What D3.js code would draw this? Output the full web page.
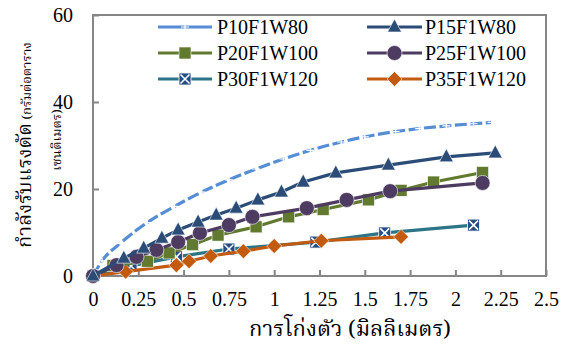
<!DOCTYPE html>
<html><head><meta charset="utf-8">
<script src="https://cdn.jsdelivr.net/npm/d3@7"></script>
<style>
html,body{margin:0;padding:0;background:#fff;}
svg{display:block;}
text{font-family:"Liberation Serif","Times New Roman",serif;fill:#000;}
.th{font-family:"Noto Serif Thai","Noto Sans Thai","Norasi","Loma","Garuda","Tlwg Typo","DejaVu Sans","Noto Sans",sans-serif;}
</style></head>
<body>
<svg id="c" width="571" height="349"></svg>
<script>
const seriesNames = ["P10F1W80","P15F1W80","P20F1W100","P25F1W100","P30F1W120","P35F1W120"];
const xTicks = [0,0.25,0.5,0.75,1,1.25,1.5,1.75,2,2.25,2.5];
const xTickLabels = ["0","0.25","0.5","0.75","1","1.25","1.5","1.75","2","2.25","2.5"];
const yTicks = [0,20,40,60];
const yTickLabels = ["0","20","40","60"];
const xTitle = "การโก่งตัว (มิลลิเมตร)";
const yTitleMain = "กำลังรับแรงดัด";
const yTitleUnit1 = " (กรัมต่อตาราง";
const yTitleUnit2 = "เซนติเมตร)";

const p10x = [0,0.05,0.15,0.3,0.45,0.6,0.75,0.9,1.05,1.2,1.37,1.5,1.67,1.8,1.95,2.1,2.2];
const p10y = [0,3.5,7.5,12.3,16,19.3,22.1,24.6,26.9,28.9,30.8,32.0,33.2,33.9,34.5,35,35.3];
const p15x = [0,0.17,0.28,0.38,0.47,0.58,0.68,0.79,0.91,1.04,1.16,1.34,1.63,1.95,2.22];
const p15y = [0,4.1,6.4,8.7,10.6,12.4,14.0,15.6,17.5,19.3,21.6,23.7,25.5,27.4,28.3];
const p20x = [0,0.11,0.3,0.42,0.55,0.69,0.9,1.08,1.27,1.52,1.7,1.88,2.15];
const p20y = [0,2.4,3.4,5.3,7.2,9.4,11.3,13.6,15.3,17.5,19.7,21.6,23.8];
const p25x = [0,0.13,0.24,0.35,0.47,0.59,0.75,0.88,1.18,1.4,1.64,2.15];
const p25y = [0,2.5,4.4,6.0,7.8,9.9,11.7,13.6,15.6,17.5,19.5,21.4];
const p30x = [0,0.21,0.46,0.75,1.23,1.61,2.1];
const p30y = [0,2.3,4.4,6.2,7.8,9.9,11.7];
const p35x = [0,0.18,0.46,0.53,0.65,0.83,1.0,1.26,1.7];
const p35y = [0,1.0,2.5,3.4,4.6,5.7,6.9,8.1,9.0];

const xs = [p10x,p15x,p20x,p25x,p30x,p35x];
const ys = [p10y,p15y,p20y,p25y,p30y,p35y];
const lineColors = ["#558ed5","#2a4c76","#617a2f","#4e3b62","#2b7586","#c25b10"];
const markerColors = ["#ffffff","#2a4c76","#617a2f","#4e3b62","#254d83","#c25b10"];
const markerTypes = ["plus","triangle","square","circle","xsquare","diamond"];

const svg = d3.select("#c");
const L=93, T=15, R=546, B=276;
const x = d3.scaleLinear().domain([0,2.5]).range([L,R]);
const y = d3.scaleLinear().domain([0,60]).range([B,T]);

svg.append("rect").attr("x",L).attr("y",T).attr("width",R-L).attr("height",B-T)
  .attr("fill","none").attr("stroke","#868686").attr("stroke-width",2);

const xAxis = d3.axisBottom(x).tickValues(xTicks).tickFormat((d,i)=>xTickLabels[i]).tickSizeInner(-6).tickSizeOuter(0).tickPadding(16);
const gx = svg.append("g").attr("transform",`translate(0,${B})`).call(xAxis);
gx.select(".domain").remove();
gx.selectAll(".tick line").attr("stroke","#868686").attr("stroke-width",2);
gx.selectAll("text").attr("font-size",20).style("font-family","Liberation Serif");

const yAxis = d3.axisLeft(y).tickValues(yTicks).tickFormat((d,i)=>yTickLabels[i]).tickSizeInner(-6).tickSizeOuter(0).tickPadding(20);
const gy = svg.append("g").attr("transform",`translate(${L},0)`).call(yAxis);
gy.select(".domain").remove();
gy.selectAll(".tick line").attr("stroke","#868686").attr("stroke-width",2);
gy.selectAll("text").attr("font-size",20).style("font-family","Liberation Serif");

function drawMarker(g, type, cx, cy, col){
  if(type==="plus"){
    g.append("path").attr("d",`M${cx-4},${cy}H${cx+4}M${cx},${cy-3}V${cy+3}`)
      .attr("stroke","#ffffff").attr("stroke-width",1.2);
  } else if(type==="triangle"){
    g.append("path").attr("d",`M${cx},${cy-8}L${cx+7},${cy+5}L${cx-7},${cy+5}Z`)
      .attr("fill",col).attr("stroke","#ffffff").attr("stroke-width",0.6);
  } else if(type==="square"){
    g.append("rect").attr("x",cx-6).attr("y",cy-6).attr("width",12).attr("height",12)
      .attr("fill",col).attr("stroke","#ffffff").attr("stroke-width",0.6);
  } else if(type==="circle"){
    g.append("circle").attr("cx",cx).attr("cy",cy).attr("r",7.5)
      .attr("fill",col).attr("stroke","#ffffff").attr("stroke-width",0.6);
  } else if(type==="xsquare"){
    g.append("rect").attr("x",cx-6).attr("y",cy-6).attr("width",12).attr("height",12)
      .attr("fill",col).attr("stroke","#ffffff").attr("stroke-width",0.8);
    g.append("path").attr("d",`M${cx-4.5},${cy-4.5}L${cx+4.5},${cy+4.5}M${cx+4.5},${cy-4.5}L${cx-4.5},${cy+4.5}`)
      .attr("stroke","#ffffff").attr("stroke-width",1.6);
  } else if(type==="diamond"){
    g.append("path").attr("d",`M${cx},${cy-7.5}L${cx+7.5},${cy}L${cx},${cy+7.5}L${cx-7.5},${cy}Z`)
      .attr("fill",col).attr("stroke","#ffffff").attr("stroke-width",0.6);
  }
}

const line = d3.line().x(d=>x(d[0])).y(d=>y(d[1]));
const smooth = d3.line().curve(d3.curveMonotoneX).x(d=>x(d[0])).y(d=>y(d[1]));
const plot = svg.append("g");
const order = [0,4,5,2,3,1];
order.forEach(i=>{
  const pts = xs[i].map((v,j)=>[v,ys[i][j]]);
  const g = plot.append("g");
  const ln = g.append("path").datum(pts).attr("d",i===0?smooth:line).attr("fill","none")
    .attr("stroke",lineColors[i]).attr("stroke-width",3.2).attr("stroke-linejoin","round");
  if(i===0) ln.attr("stroke-dasharray","12,3.5");
  pts.forEach(p=>drawMarker(g, markerTypes[i], x(p[0]), y(p[1]), markerColors[i]));
});

const legCols = [[158,212,217],[367,422,425]];
const legRows = [27,53,79];
seriesNames.forEach((n,i)=>{
  const c = legCols[i%2], ry = legRows[Math.floor(i/2)];
  const g = svg.append("g");
  g.append("line").attr("x1",c[0]).attr("x2",c[1]).attr("y1",ry).attr("y2",ry)
    .attr("stroke",lineColors[i]).attr("stroke-width",3.2);
  drawMarker(g, markerTypes[i], (c[0]+c[1])/2, ry, markerColors[i]);
  g.append("text").attr("x",c[2]).attr("y",ry+7).attr("font-size",20).text(n);
});

svg.append("text").attr("class","th").attr("x",350).attr("y",336).attr("text-anchor","middle")
  .attr("font-size",22).text(xTitle);

const yt = svg.append("text").attr("class","th").attr("transform","translate(31,145) rotate(-90)")
  .attr("text-anchor","middle");
yt.append("tspan").attr("font-size",20).text(yTitleMain);
yt.append("tspan").attr("font-size",13).text(yTitleUnit1);
svg.append("text").attr("class","th").attr("transform","translate(61,140) rotate(-90)")
  .attr("text-anchor","middle").attr("font-size",13).text(yTitleUnit2);
</script>
</body></html>
